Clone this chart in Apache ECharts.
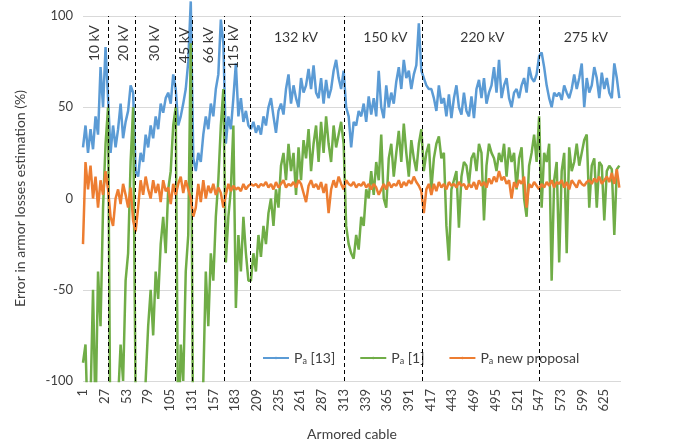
<!DOCTYPE html>
<html>
<head>
<meta charset="utf-8">
<script src="https://cdn.jsdelivr.net/npm/echarts@6/dist/echarts.min.js"></script>
<style>
  html, body { margin: 0; padding: 0; background: #fff; }
  #chart { width: 676px; height: 446px; }
</style>
</head>
<body>
<div id="chart"></div>
<script>
// values are read every 3rd cable (cable 1, 4, 7, ... 643)
const cableStep = 3
const tickLabels = ['1', '27', '53', '79', '105', '131', '157', '183', '209', '235', '261', '287', '313', '339', '365', '391', '417', '443', '469', '495', '521', '547', '573', '599', '625']

// Pa [13]
const paRef13 = [
  28, 40, 25, 38, 27, 45, 35, 72, 50, 83, 55,
  25, 40, 28, 38, 52, 33, 42, 48, 62, 58,
  15, 12, 25, 20, 35, 28, 40, 33, 45, 38, 52, 47, 55, 58, 52, 68, 60,
  40, 45, 52, 60, 75, 108,
  22, 15, 25, 20, 35, 45, 38, 52, 45, 60, 68, 98, 85,
  30, 45, 38, 55, 74, 45, 55, 42, 48, 40,
  38, 42, 36, 40, 35, 45, 40, 50, 55, 45, 36, 48, 52, 46, 60, 68, 52, 62, 55, 50, 66, 58, 62, 71, 60, 73, 58, 55, 66, 52, 65, 55, 60, 70, 76, 66, 60, 70,
  50, 45, 28, 42, 40, 48, 45, 52, 42, 56, 46, 55, 45, 70, 50, 44, 62, 50, 58, 52, 64, 72, 60, 76, 66, 70, 60, 68, 73, 96, 70,
  66, 62, 60, 60, 55, 48, 62, 52, 55, 45, 57, 44, 55, 62, 50, 46, 58, 48, 45, 56, 44, 60, 65, 55, 66, 52, 58, 62, 72, 58, 76, 55, 62, 66, 55, 50, 58, 60, 55, 62, 66, 58, 72, 66, 64, 68, 78,
  80, 72, 62, 55, 50, 58, 56, 58, 54, 62, 58, 55, 60, 68, 60, 66, 74, 50, 66, 58, 62, 72, 66, 55, 69, 60, 66, 58, 55, 74, 66, 55
]

// Pa [1]
const paRef1 = [
  -90, -80, -130, -110, -50, -120, -40, -70, -5, 30, 50,
  -150, -140, -130, -110, -80, -100, -45, -30, 20, 50,
  -110, -150, -130, -140, -100, -70, -50, -75, -40, -55, -25, -10, -30, 5, 15, 40, 50,
  -140, -80, -100, -40, -20, 85,
  -150, -140, -120, -130, -100, -40, -70, -30, -45, -10, 10, 40, 60,
  -35, -10, 5, 40, -60, -20, -40, -10, -30, -45,
  -45, -30, -40, -20, -32, -15, -25, -8, 0, -15, 5, -5, 18, 25, 10, 30, 15, 25, 2, 28, 10, 32, 22, 38, 15, 30, 40, 20, 42, 25, 45, 30, 20, 40, 28, 35, 42, 30,
  -15, -25, -30, -33, -20, -28, -10, -15, 5, 0, 15, 2, 20, 10, 35, 0, -5, 22, 30, 12, 25, 37, 20, 41, 25, 12, 32, 22, 15, 30, 38,
  15, 25, 30, 5, 22, 30, 34, 22, 25, -15, -34, 5, 10, 15, -16, 12, 20, 18, 8, 22, 25, 15, 30, 25, -12, 18, 30, 25, 22, 15, 25, 20, 30, 12, 28, 20, 25, 5, 22, 28, 0, -10, 18, 25, 35, 20, 45,
  -5, 25, 20, 30, -45, 10, 20, -35, 15, 25, -30, 28, 15, 20, 30, 18, 25, 32, 35, -5, 18, 22, -5, 20, 18, -12, 15, 18, 16, -20, 16, 18
]

// Pa new proposal
const paNew = [
  -25, 20, 5, 18, 0, 12, -5, 10, 2, 15, 5,
  -10, -15, 0, 5, -3, 8, 2, -5, 6, -12,
  -18, -5, 10, 2, 12, 5, 0, 10, 3, 8, -2, 10, 4, 6, -3, 8, 2,
  8, 12, 3, 10, 5, 0,
  -10, -5, 8, -2, 10, 0, 7, 3, 8, 2, 6, 3, -5,
  2, 8, 4, 7, 5, 6, 4, 8, 5, 7,
  8, 7, 8, 6, 8, 7, 9, 6, 8, 5, 9, 6, 8, 10, 6, 8, 7, 9, 6, 10, 8, 3, -2, 7, 10, 6, 8, 5, 9, 3, 8, -8, 5, 10, 6, 12, 8, 5,
  10, 8, 7, 9, 6, 8, 7, 9, 6, 8, 5, 8, 6, 2, 5, 8, 5, 9, 6, 8, 7, 10, 6, 9, 7, 10, 8, 12, 9, 7, 4,
  -8, 5, 8, 2, 8, 4, 9, 6, 8, 5, 9, 7, 8, 6, 9, 7, 8, 5, 8, 6, 9, 5, 10, 7, 9, 6, 11, 8, 12, 9, 15, 10, 12, 8, 10, 0, 9, 6, 10, 8, 12, -5, 8, 6, 9, 7, 5,
  8, 6, 9, 7, 10, 6, 9, 8, 10, 6, 9, 5, 10, 8, 6, 10, 8, 7, 9, 10, 8, 11, 9, 12, 8, 10, 12, 9, 14, 8, 16, 6
]

// voltage group borders (cable number) and labels
const groupBorders = [31, 63, 112, 131.5, 170, 201, 313.5, 407, 547]
const groupNames = ['10 kV', '20 kV', '30 kV', '45 kV', '66 kV', '115 kV', '132 kV', '150 kV', '220 kV', '275 kV']
const groupLabelCable = [15, 49, 87, 123, 151, 181, 256, 363, 479, 603]
const groupLabelValue = [85, 85, 85, 84, 84, 83, 88, 88, 88, 88]

const font = 'Lato, "Open Sans", sans-serif'
const textColor = '#404040'

function toPoints(vals) {
  return vals.map((v, i) => [i * cableStep, v])
}

const chart = echarts.init(document.getElementById('chart'))

const legendNames = {
  'Pa [13]': '{m|P}{s|a}{m| [13]}',
  'Pa [1]': '{m|P}{s|a}{m| [1]}',
  'Pa new proposal': '{m|P}{s|a}{m| new proposal}',
}

const option = {
  animation: false,
  textStyle: { fontFamily: font },
  grid: { left: 83, right: 55, top: 16, bottom: 65 },
  legend: {
    data: ['Pa [13]', 'Pa [1]', 'Pa new proposal'],
    left: 257,
    top: 346,
    itemWidth: 26,
    itemHeight: 3,
    itemGap: 24,
    formatter: (name) => legendNames[name],
    textStyle: {
      color: textColor,
      rich: {
        m: { fontSize: 14, fontFamily: font, color: textColor },
        s: { fontSize: 9, fontFamily: font, color: textColor, padding: [6, 0, 0, 0] },
      },
    },
  },
  xAxis: {
    type: 'value',
    min: 0,
    max: 644,
    interval: 26,
    name: 'Armored cable',
    nameLocation: 'middle',
    nameGap: 46,
    nameTextStyle: { fontSize: 14, color: textColor, fontFamily: font },
    axisLine: { show: true, lineStyle: { color: '#D9D9D9', width: 1 } },
    axisTick: { show: false },
    splitLine: { show: false },
    axisLabel: {
      rotate: 90,
      fontSize: 13,
      color: textColor,
      margin: 8,
      showMaxLabel: false,
      formatter: (v) => tickLabels[v / 26] || '',
    },
  },
  yAxis: {
    type: 'value',
    min: -100,
    max: 100,
    interval: 50,
    name: 'Error in armor losses estimation (%)',
    nameLocation: 'middle',
    nameGap: 56,
    nameTextStyle: { fontSize: 14, color: textColor, fontFamily: font },
    axisLine: { show: false },
    axisTick: { show: false },
    splitLine: { lineStyle: { color: '#D9D9D9', width: 1 } },
    axisLabel: { fontSize: 13, color: textColor, margin: 10 },
  },
  series: [
    {
      name: 'Pa [13]',
      type: 'line',
      data: toPoints(paRef13),
      symbol: 'none',
      clip: false,
      color: '#5B9BD5',
      lineStyle: { width: 2.5, color: '#5B9BD5' },
    },
    {
      name: 'Pa [1]',
      type: 'line',
      data: toPoints(paRef1),
      symbol: 'none',
      clip: true,
      color: '#70AD47',
      lineStyle: { width: 2.5, color: '#70AD47' },
    },
    {
      name: 'Pa new proposal',
      type: 'line',
      data: toPoints(paNew),
      symbol: 'none',
      clip: true,
      color: '#ED7D31',
      lineStyle: { width: 2.5, color: '#ED7D31' },
      markLine: {
        silent: true,
        symbol: ['none', 'none'],
        label: { show: false },
        lineStyle: { type: [4, 3], color: '#000', width: 1 },
        data: groupBorders.map((c) => ({ xAxis: c - 1 })),
      },
    },
    {
      name: 'groups',
      type: 'scatter',
      symbolSize: 0,
      silent: true,
      z: 5,
      data: groupNames.map((n, i) => ({
        name: n,
        value: [groupLabelCable[i] - 1, groupLabelValue[i]],
        label: {
          show: true,
          position: 'inside',
          rotate: i < 6 ? 90 : 0,
          formatter: n,
          fontSize: 14,
          color: '#000',
          fontFamily: font,
        },
      })),
    },
  ],
}

chart.setOption(option)
</script>
</body>
</html>
